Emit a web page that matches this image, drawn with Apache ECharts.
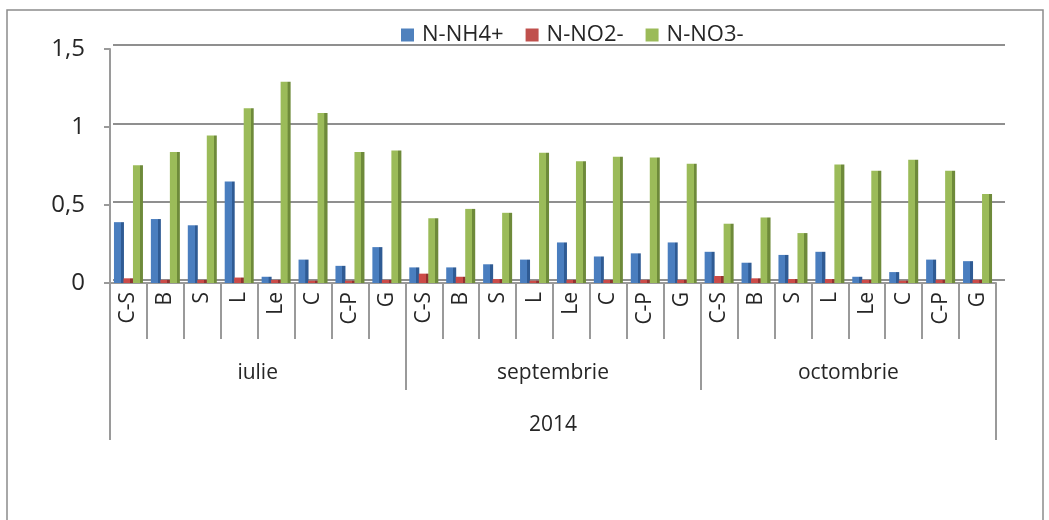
<!DOCTYPE html>
<html>
<head>
<meta charset="utf-8">
<title>N-NH4+, N-NO2-, N-NO3- 2014</title>
<script src="https://cdn.jsdelivr.net/npm/echarts@6/dist/echarts.min.js"></script>
<style>
  html, body { margin: 0; padding: 0; background: #ffffff; }
  #chart { width: 1049px; height: 520px; }
</style>
</head>
<body>
<div id="chart"></div>
<script>
// Sampling stations, repeated for each month of 2014
const stations = ['C-S', 'B', 'S', 'L', 'Le', 'C', 'C-P', 'G'];
const months = ['iulie', 'septembrie', 'octombrie'];
const years = ['2014'];
const yTicks = [0, 0.5, 1, 1.5];

// Concentrations per station, in month order (iulie, septembrie, octombrie)
const nNH4 = [0.39, 0.41, 0.37, 0.65, 0.04, 0.15, 0.11, 0.23,
              0.10, 0.10, 0.12, 0.15, 0.26, 0.17, 0.19, 0.26,
              0.20, 0.13, 0.18, 0.20, 0.04, 0.07, 0.15, 0.14];
const nNO2 = [0.03, 0.02, 0.02, 0.035, 0.02, 0.015, 0.015, 0.02,
              0.06, 0.04, 0.025, 0.015, 0.02, 0.02, 0.02, 0.02,
              0.045, 0.03, 0.025, 0.025, 0.02, 0.015, 0.02, 0.02];
const nNO3 = [0.755, 0.84, 0.945, 1.12, 1.29, 1.09, 0.84, 0.85,
              0.415, 0.475, 0.45, 0.835, 0.78, 0.81, 0.805, 0.765,
              0.38, 0.42, 0.32, 0.76, 0.72, 0.79, 0.72, 0.57];

const categories = months.flatMap(() => stations);

const FONT = '"Open Sans", "Liberation Sans", sans-serif';
const TEXT = '#262626';
const LINE = '#9a9a9a';

// Front face + darker side face, gives the columns a shaded edge
function shaded(front, side) {
  return new echarts.graphic.LinearGradient(0, 0, 1, 0, [
    { offset: 0, color: front },
    { offset: 0.68, color: front },
    { offset: 0.7, color: side },
    { offset: 1, color: side }
  ]);
}

const seriesDefs = [
  { name: 'N-NH4+', data: nNH4, front: '#4a7ebf', side: '#2f5b94', legend: '#4f81bd' },
  { name: 'N-NO2-', data: nNO2, front: '#cc4b48', side: '#8f3230', legend: '#c0504d' },
  { name: 'N-NO3-', data: nNO3, front: '#9bbb59', side: '#6e8a3a', legend: '#9bbb59' }
];

const chart = echarts.init(document.getElementById('chart'), null, { renderer: 'canvas' });

chart.setOption({
  animation: false,
  backgroundColor: '#ffffff',
  textStyle: { fontFamily: FONT, color: TEXT },
  graphic: [{
    type: 'rect',
    shape: { x: 7, y: 10, width: 1036, height: 520 },
    style: { fill: 'none', stroke: '#8c8c8c', lineWidth: 1.5 },
    silent: true
  }],
  legend: {
    top: 19,
    left: 396,
    itemWidth: 13,
    itemHeight: 13,
    itemGap: 22,
    icon: 'rect',
    textStyle: { fontFamily: FONT, fontSize: 22, color: TEXT, padding: [0, 0, 0, 3] },
    data: seriesDefs.map(s => ({ name: s.name, itemStyle: { color: s.legend } }))
  },
  grid: [
    // main plotting area (front plane)
    { left: 110, right: 53, top: 49, height: 234 },
    // back wall carrying the horizontal gridlines
    { left: 113, right: 44, top: 45, height: 235 }
  ],
  xAxis: [
    {
      type: 'category',
      gridIndex: 0,
      data: categories,
      position: 'bottom',
      axisLine: { show: true, lineStyle: { color: LINE, width: 2 } },
      axisTick: { show: true, interval: 0, length: 56, lineStyle: { color: LINE, width: 2 } },
      axisLabel: {
        interval: 0, rotate: 90, margin: 9,
        fontFamily: FONT, fontSize: 21, color: TEXT
      },
      splitLine: { show: false }
    },
    {
      type: 'category',
      gridIndex: 0,
      data: months,
      position: 'bottom',
      axisLine: { show: false },
      axisTick: { show: true, interval: 0, length: 107, lineStyle: { color: LINE, width: 2 } },
      axisLabel: { interval: 0, margin: 80, fontFamily: FONT, fontSize: 21, color: TEXT },
      splitLine: { show: false }
    },
    {
      type: 'category',
      gridIndex: 0,
      data: years,
      position: 'bottom',
      axisLine: { show: false },
      axisTick: { show: true, interval: 0, length: 157, lineStyle: { color: LINE, width: 2 } },
      axisLabel: { interval: 0, margin: 132, fontFamily: FONT, fontSize: 21, color: TEXT },
      splitLine: { show: false }
    },
    {
      type: 'value',
      gridIndex: 1,
      show: false
    }
  ],
  yAxis: [
    {
      type: 'value',
      gridIndex: 0,
      min: yTicks[0],
      max: yTicks[yTicks.length - 1],
      interval: 0.5,
      axisLine: { show: true, lineStyle: { color: LINE, width: 2 } },
      axisTick: { show: true, length: 6, lineStyle: { color: LINE, width: 2 } },
      axisLabel: {
        margin: 25,
        fontFamily: FONT, fontSize: 24, color: TEXT,
        formatter: v => String(v).replace('.', ',')
      },
      splitLine: { show: false }
    },
    {
      type: 'value',
      gridIndex: 1,
      min: yTicks[0],
      max: yTicks[yTicks.length - 1],
      interval: 0.5,
      axisLine: { show: false },
      axisTick: { show: false },
      axisLabel: { show: false },
      splitLine: { show: true, lineStyle: { color: '#8f8f8f', width: 2 } }
    }
  ],
  series: seriesDefs.map(s => ({
    name: s.name,
    type: 'bar',
    xAxisIndex: 0,
    yAxisIndex: 0,
    data: s.data,
    barWidth: 10,
    barGap: '-5%',
    itemStyle: { color: shaded(s.front, s.side) },
    emphasis: { disabled: true }
  }))
});
</script>
</body>
</html>
